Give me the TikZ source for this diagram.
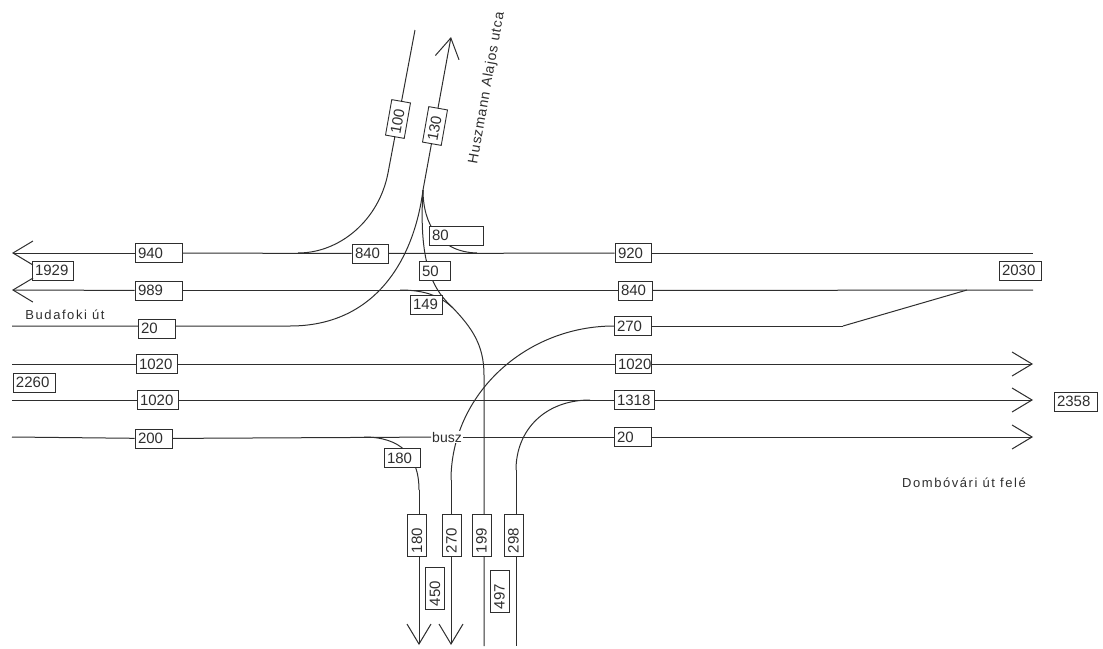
\documentclass[tikz,border=0pt]{standalone}
\usepackage{fontspec}
\setmainfont{Liberation Sans}
\usepackage{xcolor}
\usetikzlibrary{arrows.meta}
\definecolor{ink}{gray}{0.18}
\tikzset{
  val/.style={draw=ink, fill=white, text=ink, line width=.9pt, minimum height=19pt, inner xsep=3pt, inner ysep=1pt,
    text width=#1pt, align=left, font=\fontsize{15}{15}\selectfont},
  val/.default=31,
  road/.style={draw=ink, line width=1pt},
  arr/.style={road, -{Straight Barb[length=20pt, width=24pt]}},
  note/.style={text=ink, inner sep=1pt, font=\fontsize{13}{15}\selectfont\addfontfeature{LetterSpace=12}}}

\begin{document}
\begin{tikzpicture}[x=1pt, y=-1pt]
  \useasboundingbox (0,0) rectangle (1103,648);
  % road ends and junctions
  \coordinate (w1) at (12,253); \coordinate (e1) at (1033,253);
  \coordinate (w2) at (12,290); \coordinate (e2) at (1033,290);
  \coordinate (w3) at (12,326);
  \coordinate (w4) at (12,364); \coordinate (e4) at (1033,364);
  \coordinate (w5) at (12,400); \coordinate (e5) at (1033,400);
  \coordinate (w6) at (12,437); \coordinate (e6) at (1033,437);
  \coordinate (ntop) at (415,30); \coordinate (nbend) at (388,173); \coordinate (njoin) at (298,253);
  \coordinate (ntip) at (451,37); \coordinate (nfork) at (423,190);
  \coordinate (wbend) at (290,326); \coordinate (mjoin) at (477,253);
  \coordinate (m149) at (400,290); \coordinate (merge) at (453,308);
  \coordinate (sbus) at (364,437); \coordinate (s180) at (419,490); \coordinate (s180tip) at (419,645);
  \coordinate (s270) at (451,480); \coordinate (s270tip) at (451,645);
  \coordinate (s199) at (484,375); \coordinate (s199end) at (484,646);
  \coordinate (s298) at (516,470); \coordinate (s298end) at (516,646);
  \coordinate (e270) at (843,326); \coordinate (e270join) at (967,290);
  % curves go under the value boxes
  \draw[road] (ntop) -- (nbend) .. controls (379,220) and (340,253) .. (njoin);
  \draw[arr] (nfork) -- (ntip);
  \draw[road] (nfork) .. controls (414,260) and (375,326) .. (wbend) -- (w3);
  \draw[road] (nfork) .. controls (423,225) and (440,252) .. (mjoin);
  \draw[road] (nfork) .. controls (418,270) and (436,292) .. (merge) .. controls (472,328) and (484,345) .. (s199) -- (s199end);
  \draw[road] (m149) .. controls (425,290) and (440,296) .. (merge);
  \draw[road] (sbus) .. controls (400,437) and (419,455) .. (s180);
  \draw[arr] (s180) -- (s180tip);
  \draw[arr] (s270) -- (s270tip);
  \draw[road] (s270) .. controls (451,395) and (525,326) .. (614,326);
  \draw[road] (s298) -- (s298end);
  \draw[road] (s298) .. controls (516,430) and (545,400) .. (590,400);
  \draw[road] (e270) -- (e270join);
  % value boxes
  \node[val=41] (n940) at (158.5,253) {940};
  \node[val=41] (n989) at (158.5,290.5) {989};
  \node[val=31] (n20a) at (156.5,328.5) {20};
  \node[val=35] (n1020a) at (156.5,364) {1020};
  \node[val=35] (n1020b) at (157.5,400) {1020};
  \node[val=31] (n200) at (153.5,438.5) {200};
  \node[val=35] (n1929) at (52.5,270.5) {1929};
  \node[val=36] (n2260) at (34,382.5) {2260};
  \node[val=30] (n840a) at (370,253.5) {840};
  \node[val=48] (n80) at (456,235.5) {80};
  \node[val=25] (n50) at (434.5,271) {50};
  \node[val=26] (n149) at (426,304.5) {149};
  \node[val=30] (n920) at (633,253) {920};
  \node[val=28] (n840b) at (635,290.5) {840};
  \node[val=31] (n270a) at (632.5,326) {270};
  \node[val=30] (n1020c) at (633,364) {1020};
  \node[val=34] (n1318) at (634,400) {1318};
  \node[val=31] (n20b) at (632.5,437) {20};
  \node[val=36] (n2030) at (1020,270.5) {2030};
  \node[val=37] (n2358) at (1075.5,401.5) {2358};
  \node[val=30] (n180a) at (402,458) {180};
  \node[val=30, rotate=80] (n100) at (398,119) {100};
  \node[val=30, rotate=80] (n130) at (435,126) {130};
  \node[val=36, rotate=90] (n180b) at (417,535) {180};
  \node[val=36, rotate=90] (n270b) at (451.5,535) {270};
  \node[val=36, rotate=90] (n199) at (481.5,535) {199};
  \node[val=36, rotate=90] (n298) at (513.5,535) {298};
  \node[val=36, rotate=90] (n450) at (435,588) {450};
  \node[val=36, rotate=90] (n497) at (499.5,591) {497};
  % texts
  \node[note] (budafoki) at (65,315) {Budafoki  út};
  \node[note] (dombovari) at (964,483) {Dombóvári út felé};
  \node[note, rotate=80, font=\fontsize{14}{15}\selectfont\addfontfeature{LetterSpace=6}] (huszmann) at (487,88) {Huszmann  Alajos  utca};
  \node[note, fill=white, font=\fontsize{14}{15}\selectfont] (busz) at (447,437) {busz};
  % straight roads from box to box
  \draw[arr] (n940) -- (w1);
  \draw[road] (n940) -- (n840a); \draw[road] (n840a) -- (n920); \draw[road] (n920) -- (e1);
  \draw[arr] (n989) -- (w2);
  \draw[road] (n989) -- (n840b); \draw[road] (n840b) -- (e2);
  \draw[road] (w4) -- (n1020a); \draw[road] (n1020a) -- (n1020c); \draw[arr] (n1020c) -- (e4);
  \draw[road] (w5) -- (n1020b); \draw[road] (n1020b) -- (n1318); \draw[arr] (n1318) -- (e5);
  \draw[road] (w6) -- (n200); \draw[road] (n200) -- (busz); \draw[road] (busz) -- (n20b); \draw[arr] (n20b) -- (e6);
  \draw[road] (n270a) -- (e270);
\end{tikzpicture}
\end{document}
